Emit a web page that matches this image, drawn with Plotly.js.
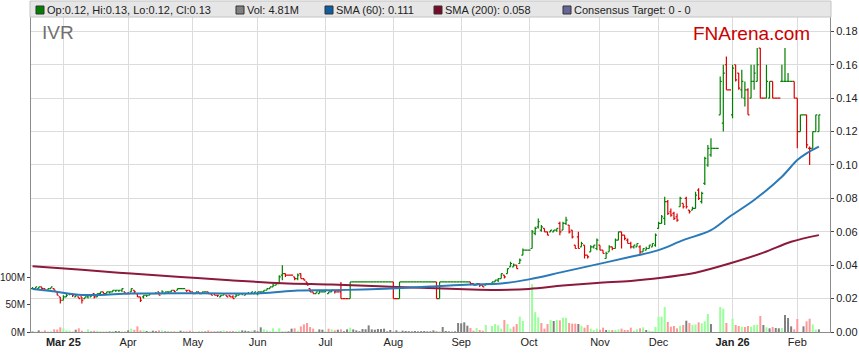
<!DOCTYPE html>
<html><head><meta charset="utf-8">
<script src="https://cdn.plot.ly/plotly-3.0.1.min.js"></script>
<style>html,body{margin:0;padding:0;background:#fff;}#chart{width:859px;height:363px;}</style>
</head><body><div id="chart"></div>
<script>
// ---------- data ----------
const ticker = 'IVR';
const brand = 'FNArena.com';
const monthIdx = [10, 31, 52, 73, 95, 117, 139, 161, 184, 203, 227, 248];
const monthLabels = ['Mar 25','Apr','May','Jun','Jul','Aug','Sep','Oct','Nov','Dec','Jan 26','Feb'];
const volTickVals = [0, 50, 100];
const volTickText = ['0M', '50M', '100M'];

const opens = [
.026,.026,.026,.027,.026,.025,.026,.026,.024,.021,
.019,.021,.023,.023,.021,.021,.021,.020,.021,.021,
.023,.021,.023,.024,.023,.024,.024,.025,.025,.025,
.024,.023,.024,.025,.023,.021,.021,.022,.022,.023,
.023,.024,.023,.023,.024,.024,.025,.025,.026,.026,
.025,.025,.024,.023,.024,.023,.024,.024,.023,.023,
.022,.021,.022,.022,.022,.021,.021,.022,.023,.022,
.023,.023,.023,.023,.024,.024,.025,.026,.027,.028,
.029,.034,.035,.034,.034,.033,.032,.035,.032,.030,
.026,.024,.023,.023,.024,.024,.023,.024,.025,.024,
.024,.020,.020,.020,.030,.030,.030,.030,.030,.030,
.030,.030,.030,.030,.030,.030,.030,.030,.020,.020,
.030,.030,.030,.030,.030,.030,.030,.030,.030,.030,
.030,.030,.020,.030,.030,.030,.030,.030,.030,.030,
.030,.030,.030,.029,.028,.029,.028,.028,.029,.029,
.030,.031,.032,.034,.035,.039,.039,.040,.041,.046,
.049,.049,.050,.059,.063,.061,.062,.060,.060,.060,
.061,.065,.061,.065,.064,.061,.052,.057,.051,.052,
.046,.048,.051,.050,.052,.049,.044,.048,.051,.050,
.055,.060,.058,.055,.053,.051,.051,.051,.048,.049,
.050,.051,.052,.062,.065,.068,.078,.072,.071,.069,
.075,.077,.080,.073,.073,.074,.085,.078,.089,.100,
.106,.110,.110,.130,.125,.160,.145,.130,.160,.155,
.145,.140,.145,.140,.150,.150,.170,.140,.140,.140,
.150,.140,.140,.150,.150,.150,.150,.150,.140,.120,
.130,.130,.110,.110,.120,.120];
const highs = [
.027,.027,.027,.027,.026,.026,.027,.026,.024,.021,
.022,.023,.023,.023,.022,.021,.021,.021,.022,.022,
.023,.023,.024,.024,.024,.024,.025,.025,.025,.026,
.024,.024,.026,.025,.023,.021,.022,.022,.023,.023,
.024,.024,.025,.024,.024,.025,.025,.026,.026,.026,
.025,.025,.024,.024,.024,.024,.024,.024,.023,.023,
.022,.022,.023,.022,.022,.022,.023,.023,.023,.023,
.024,.024,.024,.024,.024,.025,.026,.027,.029,.030,
.034,.040,.035,.034,.034,.033,.035,.035,.032,.030,
.026,.024,.024,.025,.024,.025,.024,.025,.025,.024,
.030,.020,.020,.030,.030,.030,.030,.030,.030,.030,
.030,.030,.030,.030,.030,.030,.030,.030,.020,.030,
.030,.030,.030,.030,.030,.030,.030,.030,.030,.030,
.030,.030,.030,.030,.030,.030,.030,.030,.030,.030,
.030,.030,.030,.029,.029,.029,.028,.029,.029,.030,
.031,.032,.035,.034,.038,.042,.041,.040,.044,.050,
.049,.049,.061,.063,.068,.064,.062,.060,.061,.061,
.062,.066,.066,.069,.064,.061,.052,.060,.054,.052,
.046,.052,.052,.056,.052,.049,.048,.052,.051,.056,
.060,.060,.058,.056,.054,.052,.053,.052,.050,.051,
.052,.053,.059,.066,.070,.081,.079,.074,.072,.071,
.081,.077,.081,.073,.075,.084,.086,.084,.105,.112,
.116,.110,.110,.153,.160,.165,.145,.160,.160,.155,
.157,.150,.146,.160,.160,.170,.170,.140,.160,.150,
.150,.140,.140,.160,.170,.155,.150,.150,.140,.130,
.130,.130,.111,.120,.130,.130];
const lows = [
.026,.026,.026,.025,.025,.025,.026,.025,.022,.017,
.019,.021,.022,.021,.021,.020,.017,.020,.020,.021,
.020,.021,.022,.023,.023,.023,.024,.024,.024,.024,
.023,.023,.024,.023,.021,.018,.020,.021,.022,.023,
.023,.022,.023,.023,.023,.024,.024,.025,.026,.026,
.024,.024,.023,.023,.023,.023,.024,.023,.022,.022,
.021,.021,.022,.021,.021,.020,.021,.022,.022,.022,
.023,.023,.023,.022,.023,.024,.025,.026,.027,.028,
.029,.031,.033,.034,.034,.031,.031,.032,.031,.028,
.024,.023,.023,.023,.024,.024,.023,.024,.023,.024,
.020,.020,.020,.020,.030,.030,.030,.030,.030,.030,
.030,.030,.030,.030,.030,.030,.030,.020,.020,.020,
.030,.030,.030,.030,.030,.030,.030,.030,.030,.030,
.030,.020,.020,.030,.030,.030,.030,.030,.030,.030,
.030,.030,.028,.028,.028,.027,.027,.028,.029,.029,
.030,.030,.032,.032,.035,.039,.039,.038,.041,.046,
.049,.049,.050,.058,.062,.060,.060,.058,.060,.060,
.060,.058,.061,.064,.059,.056,.050,.050,.051,.044,
.044,.048,.050,.049,.049,.047,.044,.048,.049,.050,
.055,.050,.055,.053,.050,.050,.051,.046,.048,.049,
.050,.051,.051,.062,.065,.064,.070,.069,.067,.066,
.075,.074,.074,.071,.073,.074,.079,.077,.088,.099,
.105,.110,.110,.130,.120,.145,.145,.128,.150,.145,
.140,.135,.130,.140,.145,.150,.140,.140,.140,.140,
.140,.140,.140,.150,.150,.150,.150,.140,.110,.120,
.130,.110,.100,.110,.120,.120];
const closes = [
.026,.027,.027,.026,.025,.026,.027,.025,.022,.019,
.021,.022,.023,.022,.022,.020,.019,.021,.022,.022,
.021,.023,.024,.023,.024,.024,.025,.025,.025,.026,
.023,.023,.026,.024,.021,.019,.022,.022,.023,.023,
.023,.022,.024,.024,.024,.025,.024,.026,.026,.026,
.025,.024,.023,.024,.023,.024,.024,.023,.022,.022,
.022,.022,.023,.021,.021,.020,.022,.023,.023,.023,
.023,.024,.024,.024,.024,.025,.026,.027,.028,.029,
.033,.035,.034,.034,.034,.032,.034,.032,.031,.028,
.024,.023,.024,.024,.024,.025,.024,.025,.024,.024,
.020,.020,.020,.030,.030,.030,.030,.030,.030,.030,
.030,.030,.030,.030,.030,.030,.030,.020,.020,.030,
.030,.030,.030,.030,.030,.030,.030,.030,.030,.030,
.030,.020,.030,.030,.030,.030,.030,.030,.030,.030,
.030,.030,.029,.028,.029,.028,.027,.029,.029,.030,
.031,.032,.035,.033,.038,.041,.040,.038,.043,.049,
.049,.049,.060,.062,.066,.063,.060,.058,.061,.061,
.062,.060,.065,.067,.060,.057,.050,.050,.053,.046,
.045,.051,.052,.055,.049,.047,.047,.051,.050,.055,
.060,.058,.056,.053,.051,.052,.053,.048,.050,.050,
.052,.053,.058,.065,.069,.078,.071,.070,.068,.067,
.080,.075,.075,.072,.074,.082,.080,.083,.104,.110,
.110,.110,.110,.150,.155,.145,.145,.158,.151,.146,
.150,.145,.130,.150,.155,.160,.140,.140,.150,.150,
.140,.140,.140,.150,.150,.150,.150,.140,.120,.130,
.130,.112,.110,.120,.130,.130];
// volume in millions of shares
const volumes = [
1.0,0.6,3.0,0.8,3.0,0.8,1.2,4.8,4.5,8.5,
6.7,3.0,2.4,0.8,4.2,6.7,2.4,0.6,4.8,1.0,
2.4,2.4,1.5,0.8,1.5,1.0,1.8,1.8,1.5,1.2,
1.0,3.0,6.1,4.0,10.3,3.0,3.0,1.8,1.2,2.4,
1.5,3.0,3.0,1.2,0.8,1.8,1.2,1.0,2.4,0.8,
1.2,2.4,1.0,0.8,1.2,1.8,1.0,3.0,1.2,0.8,
1.0,1.2,3.0,1.8,0.8,1.8,1.5,2.4,3.0,2.4,
1.5,2.4,3.0,1.2,8.5,4.8,3.0,1.2,6.7,1.0,
6.7,1.8,1.0,1.2,6.1,6.7,2.4,10.3,13.9,16.4,
9.1,6.1,1.0,4.8,4.2,1.5,6.1,4.8,3.0,4.2,
4.8,1.2,4.8,7.9,4.8,3.0,1.5,5.5,5.0,12.1,
4.8,4.2,5.5,5.5,6.1,1.2,3.6,1.0,3.0,1.2,
2.4,1.8,1.5,1.2,1.8,1.2,1.5,1.8,1.2,1.2,
3.0,1.8,1.2,9.1,1.8,1.2,0.6,1.2,16.4,15.8,
17.6,11.5,7.3,2.4,7.3,3.6,2.4,12.7,0,10.9,
14.5,12.1,6.1,21.8,14.5,6.1,9.7,14.5,27.9,20.0,
0,0,87,36,26.7,16.4,6.1,14.5,21.8,20.0,
21.8,21.2,26.0,26.0,16.4,15.2,15.2,14.5,11.5,7.9,
12.7,6.1,3.6,6.1,4.2,7.9,3.6,3.6,3.6,3.6,
4.8,6.1,3.6,3.6,7.9,2.4,4.8,6.7,8.5,3.6,
2.4,1.8,9.1,27.9,27.9,45.5,18.2,9.7,10.9,6.7,
11.5,12.7,20.6,16.4,12.7,13.9,17.6,15.8,19.4,32.7,
14.5,0,0,45.5,42.4,16.4,0,24.2,12.7,10.9,
9.7,9.1,10.9,9.7,12.7,13.3,29.1,12.7,8.5,6.7,
9.1,7.3,6.7,7.3,30.9,25.5,10.3,4.8,23.6,0,
10.3,19.4,24.2,13.9,4.2,4.81];
// moving averages read at sample trading days
const sma60Idx = [0,6,16,22,32,54,74,86,97,107,118,129,142,152,161,172,183,194,203,211,220,226,234,243,248,251,255];
const sma60Val = [.0258,.0245,.0222,.0222,.0230,.0232,.0232,.0248,.0250,.0255,.0262,.0272,.0285,.0290,.0315,.0360,.0405,.0450,.0490,.0550,.0610,.0690,.0790,.0930,.1030,.1070,.1110];
const sma200Idx = [0,16,32,48,64,81,97,118,140,151,161,172,183,194,204,210,215,226,237,246,255];
const sma200Val = [.0394,.0372,.0350,.0330,.0310,.0292,.0284,.0270,.0256,.0252,.0258,.0278,.0294,.0306,.0325,.0340,.0355,.0410,.0475,.0540,.0580];
const consensusText = 'Consensus Target: 0 - 0';

// ---------- drawing ----------
const FONT = 'Liberation Sans, Arial, Helvetica, sans-serif';
const idx = closes.map((_, i) => i);
const last = closes.length - 1;
const GREEN = '#008000', RED = '#dd0000';
const volColors = closes.map((c, i) => {
  if (i === 0) return '#808080';
  if (c > closes[i-1]) return '#99ff99';
  if (c < closes[i-1]) return '#ff9999';
  return '#808080';
});

// plot area in pixels
const PL = 31, PR = 830, PT = 17, PB = 332;
const X = px => (px - PL) / (PR - PL);
const Y = py => (PB - py) / (PB - PT);

const traces = [
  {type:'bar', x: idx, y: volumes, yaxis:'y', xaxis:'x',
   marker:{color: volColors, line:{width:0}}, width:0.65, hoverinfo:'skip'},
  {type:'scatter', mode:'lines', x: sma200Idx, y: sma200Val, yaxis:'y2',
   line:{color:'#8b1a3c', width:2, shape:'spline', smoothing:1}, hoverinfo:'skip'},
  {type:'scatter', mode:'lines', x: sma60Idx, y: sma60Val, yaxis:'y2',
   line:{color:'#2a7ab9', width:2, shape:'spline', smoothing:1}, hoverinfo:'skip'},
  {type:'ohlc', x: idx, open: opens, high: highs, low: lows, close: closes, yaxis:'y2',
   increasing:{line:{color:GREEN, width:1.2}}, decreasing:{line:{color:RED, width:1.2}},
   tickwidth:0.5, hoverinfo:'skip'}
];

const f2 = v => v.toFixed(2);
const legendItems = [
  {text:`Op:${f2(opens[last])}, Hi:${f2(highs[last])}, Lo:${f2(lows[last])}, Cl:${f2(closes[last])}`, color:GREEN, x:47},
  {text:`Vol: ${volumes[last].toFixed(2)}M`, color:'#808080', x:247},
  {text:`SMA (60): ${sma60Val[sma60Val.length-1].toFixed(3)}`, color:'#0f5fa0', x:336},
  {text:`SMA (200): ${sma200Val[sma200Val.length-1].toFixed(3)}`, color:'#7a0a2a', x:445},
  {text:consensusText, color:'#66669a', x:574}
];

const shapes = [
  {type:'rect', xref:'paper', yref:'paper', x0:X(30), x1:X(831), y0:Y(17), y1:Y(1),
   fillcolor:'#e6e6e6', line:{color:'#c4c4c4', width:1}, layer:'above'}
];
const annotations = [];
legendItems.forEach(it => {
  shapes.push({type:'rect', xref:'paper', yref:'paper', x0:X(it.x-11), x1:X(it.x-3), y0:Y(14), y1:Y(6),
    fillcolor:it.color, line:{color:'#333', width:1}, layer:'above'});
  annotations.push({xref:'paper', yref:'paper', x:X(it.x-2), y:Y(10), xanchor:'left', yanchor:'middle',
    text:it.text, showarrow:false, font:{family:FONT, size:11, color:'#222'}});
});
annotations.push({xref:'paper', yref:'paper', x:X(40), y:Y(32.5), xanchor:'left', yanchor:'middle',
  text:ticker, showarrow:false, font:{family:FONT, size:19, color:'#707070'}});
annotations.push({xref:'paper', yref:'paper', x:X(691), y:Y(33), xanchor:'left', yanchor:'middle',
  text:brand, showarrow:false, font:{family:FONT, size:19, color:'#cc0000'}});

const layout = {
  width:859, height:363,
  margin:{l:PL, r:859-PR, t:PT, b:363-PB, pad:0},
  paper_bgcolor:'#ffffff', plot_bgcolor:'#ffffff',
  showlegend:false, hovermode:false, dragmode:false,
  font:{family:FONT, size:11, color:'#222'},
  xaxis:{range:[-0.5, 258.6], tickmode:'array', tickvals:monthIdx,
    ticktext:monthLabels.map(t => t.includes(' ') ? `<b>${t}</b>` : t),
    showgrid:true, gridcolor:'#dcdcdc', gridwidth:1, showline:true, linecolor:'#8c8c8c', linewidth:1,
    ticks:'', zeroline:false, rangeslider:{visible:false}, fixedrange:true,
    tickfont:{family:FONT, size:11, color:'#222'}},
  yaxis:{range:[0, 572.7], tickmode:'array', tickvals:volTickVals, ticktext:volTickText,
    showgrid:false, showline:true, linecolor:'#8c8c8c', linewidth:1, ticks:'outside', ticklen:3,
    tickcolor:'#444', zeroline:false, fixedrange:true, tickfont:{family:FONT, size:10, color:'#222'}},
  yaxis2:{overlaying:'y', side:'right', range:[0, 0.1886], tick0:0, dtick:0.02, tickformat:'.2f',
    showgrid:true, gridcolor:'#dcdcdc', gridwidth:1, showline:true, linecolor:'#8c8c8c', linewidth:1,
    ticks:'outside', ticklen:3, tickcolor:'#444', zeroline:false, fixedrange:true,
    tickfont:{family:FONT, size:11, color:'#222'}},
  shapes: shapes, annotations: annotations
};

Plotly.newPlot('chart', traces, layout, {displayModeBar:false, staticPlot:true});
</script>
</body></html>
